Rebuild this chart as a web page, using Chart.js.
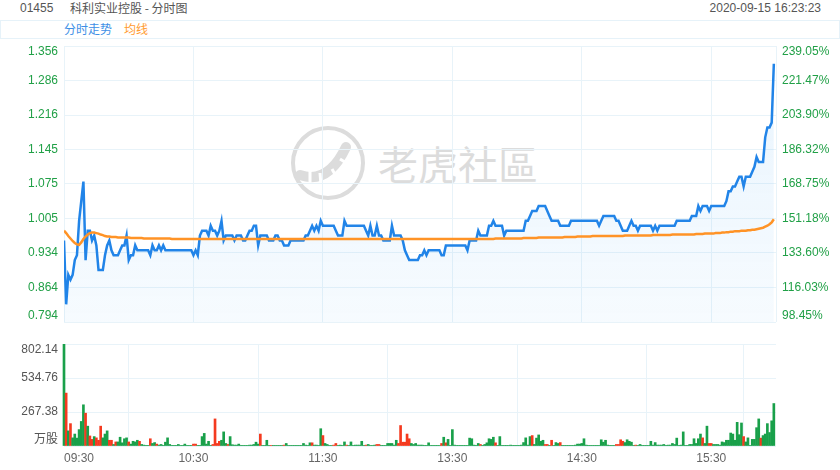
<!DOCTYPE html>
<html>
<head>
<meta charset="utf-8">
<script src="https://cdn.jsdelivr.net/npm/chart.js@4.4.0/dist/chart.umd.min.js"></script>
<style>
body { margin: 0; background: #fff; width: 840px; height: 470px; overflow: hidden; position: relative;
  font-family: 'Liberation Sans', 'Noto Sans CJK SC', sans-serif; }
.txt { position: absolute; font-size: 12px; line-height: 16px; color: #555; white-space: nowrap; }
#legendBox { position: absolute; left: 0; top: 20px; width: 838px; height: 17px; border: 1px solid #e6f2f9; }
#watermark { position: absolute; left: 378px; top: 142px; font-family: 'Noto Sans CJK SC', sans-serif;
  font-size: 40px; line-height: 42px; color: #dcdcdc; }
#logo { position: absolute; left: 288px; top: 123px; }
canvas { position: absolute; left: 0; z-index: 2; }
#priceChart { top: 28px; }
#volChart { top: 326px; }
</style>
</head>
<body>
<div class="txt" style="left:20px;top:0">01455</div>
<div class="txt" style="left:70px;top:0;font-family:'Noto Sans CJK SC',sans-serif">科利实业控股 - 分时图</div>
<div class="txt" style="right:19px;top:0">2020-09-15 16:23:23</div>
<div id="legendBox"></div>
<div class="txt" style="left:64px;top:21px;color:#3d8fe6;font-family:'Noto Sans CJK SC',sans-serif">分时走势</div>
<div class="txt" style="left:124px;top:21px;color:#ff9b30;font-family:'Noto Sans CJK SC',sans-serif">均线</div>

<svg id="logo" width="82" height="82" viewBox="0 0 82 82">
  <circle cx="40" cy="40" r="35" fill="none" stroke="#dcdcdc" stroke-width="4"/>
  <path d="M12 52 Q40 62 58 24" fill="none" stroke="#dcdcdc" stroke-width="10" stroke-linecap="round"/>
  <path d="M22 48 L22 62 M32 50 L33 62 M44 46 L49 55 M52 36 L60 41" stroke="#fff" stroke-width="3"/>
</svg>
<div id="watermark">老虎社區</div>

<canvas id="priceChart" width="840" height="312"></canvas>
<canvas id="volChart" width="840" height="144"></canvas>

<script>
// minute index 0 = 09:30, 150 = 12:00/13:00, 330 = 16:00
const price = [
  0.96,0.83,0.89,0.88,0.89,0.92,0.93,1.00,1.04,1.08,
  0.92,0.98,0.98,0.96,0.97,0.95,0.90,0.90,0.90,0.93,
  0.95,0.96,0.94,0.93,0.93,0.93,0.94,0.95,0.95,0.97,
  0.92,0.93,0.93,0.95,0.94,0.94,0.94,0.94,0.94,0.94,
  0.93,0.95,0.94,0.94,0.95,0.94,0.95,0.94,0.94,0.94,
  0.94,0.94,0.94,0.94,0.94,0.94,0.94,0.94,0.94,0.94,
  0.93,0.94,0.93,0.97,0.98,0.98,0.98,0.97,0.99,0.98,
  0.98,0.97,0.98,1.00,0.96,0.97,0.97,0.97,0.97,0.96,
  0.97,0.97,0.97,0.96,0.96,0.97,0.98,0.98,0.99,0.99,
  0.95,0.97,0.97,0.97,0.97,0.96,0.96,0.96,0.97,0.97,
  0.96,0.96,0.95,0.95,0.95,0.96,0.96,0.96,0.96,0.96,
  0.96,0.96,0.97,0.97,0.98,0.99,0.98,0.99,0.98,1.00,
  0.99,0.99,0.99,0.99,0.99,0.99,0.98,0.97,0.97,0.97,
  1.00,0.99,0.99,0.99,0.99,0.99,0.99,0.99,0.99,0.99,
  0.98,0.97,0.99,0.97,0.97,0.99,0.97,0.97,0.96,0.96,
  0.96,0.96,0.99,0.97,0.97,0.97,0.97,0.96,0.94,0.93,
  0.92,0.92,0.92,0.92,0.92,0.93,0.93,0.94,0.93,0.94,
  0.94,0.94,0.94,0.94,0.94,0.93,0.93,0.95,0.95,0.95,
  0.95,0.95,0.95,0.95,0.95,0.95,0.95,0.94,0.96,0.96,
  0.96,0.96,0.98,0.97,0.97,0.97,0.97,0.99,0.99,1.00,
  0.99,0.99,0.99,0.99,0.97,0.98,0.98,0.98,0.98,0.98,
  0.98,0.98,0.98,0.98,1.00,1.00,1.01,1.02,1.02,1.02,
  1.03,1.03,1.03,1.03,1.02,1.01,1.00,1.00,1.00,1.00,
  0.99,0.99,0.99,0.99,0.99,1.00,1.00,1.00,1.00,1.00,
  1.00,1.00,1.00,1.00,1.00,1.00,1.00,1.00,0.99,1.00,
  1.01,1.01,1.01,1.01,1.01,1.01,1.00,1.00,0.99,0.98,
  0.98,0.98,0.99,1.00,0.99,0.99,0.98,0.99,0.99,0.99,
  0.99,0.99,0.99,0.98,0.99,0.98,0.99,0.99,0.99,0.99,
  0.99,0.99,0.99,0.99,1.00,1.00,1.00,1.00,1.00,1.00,
  1.00,1.01,1.01,1.01,1.03,1.02,1.03,1.03,1.03,1.02,
  1.03,1.03,1.03,1.03,1.03,1.03,1.03,1.04,1.06,1.06,
  1.07,1.07,1.08,1.09,1.09,1.07,1.09,1.09,1.09,1.10,
  1.11,1.13,1.12,1.12,1.12,1.17,1.19,1.19,1.20,1.32
];
const avgPrice = [
  0.980,0.975,0.969,0.964,0.959,0.955,0.952,0.951,0.956,0.963,
  0.968,0.972,0.975,0.976,0.976,0.975,0.974,0.972,0.971,0.969,
  0.968,0.968,0.967,0.967,0.967,0.966,0.966,0.966,0.966,0.966,
  0.966,0.965,0.965,0.965,0.965,0.965,0.965,0.964,0.964,0.964,
  0.964,0.964,0.964,0.964,0.964,0.964,0.964,0.964,0.964,0.964,
  0.963,0.963,0.963,0.963,0.963,0.963,0.963,0.963,0.963,0.963,
  0.963,0.963,0.963,0.963,0.963,0.963,0.963,0.963,0.963,0.963,
  0.963,0.963,0.963,0.963,0.963,0.963,0.963,0.963,0.963,0.963,
  0.963,0.963,0.963,0.963,0.963,0.963,0.963,0.963,0.963,0.963,
  0.963,0.963,0.963,0.963,0.963,0.963,0.963,0.963,0.963,0.963,
  0.963,0.963,0.963,0.963,0.963,0.963,0.963,0.963,0.963,0.963,
  0.963,0.963,0.963,0.963,0.963,0.963,0.963,0.963,0.963,0.963,
  0.963,0.963,0.963,0.963,0.963,0.963,0.963,0.963,0.963,0.963,
  0.963,0.963,0.963,0.963,0.963,0.963,0.963,0.963,0.963,0.963,
  0.963,0.963,0.963,0.963,0.963,0.963,0.963,0.963,0.963,0.963,
  0.963,0.963,0.963,0.963,0.963,0.963,0.963,0.963,0.963,0.963,
  0.963,0.963,0.963,0.963,0.963,0.963,0.963,0.963,0.963,0.963,
  0.963,0.963,0.963,0.963,0.963,0.963,0.963,0.963,0.963,0.963,
  0.963,0.963,0.963,0.963,0.963,0.963,0.963,0.963,0.963,0.963,
  0.963,0.963,0.963,0.963,0.963,0.963,0.963,0.963,0.963,0.963,
  0.964,0.964,0.964,0.964,0.964,0.964,0.964,0.964,0.964,0.964,
  0.964,0.964,0.964,0.965,0.965,0.965,0.965,0.965,0.965,0.965,
  0.966,0.966,0.966,0.966,0.966,0.966,0.966,0.966,0.966,0.966,
  0.966,0.966,0.967,0.967,0.967,0.967,0.967,0.967,0.968,0.968,
  0.968,0.968,0.968,0.968,0.968,0.969,0.969,0.969,0.969,0.969,
  0.969,0.969,0.969,0.969,0.969,0.969,0.969,0.969,0.969,0.969,
  0.970,0.970,0.970,0.970,0.970,0.970,0.970,0.970,0.970,0.970,
  0.970,0.970,0.970,0.971,0.971,0.971,0.971,0.971,0.971,0.971,
  0.971,0.971,0.972,0.972,0.972,0.972,0.972,0.972,0.972,0.972,
  0.972,0.972,0.972,0.973,0.973,0.973,0.973,0.974,0.974,0.974,
  0.974,0.974,0.975,0.975,0.975,0.976,0.976,0.977,0.977,0.978,
  0.978,0.979,0.979,0.979,0.980,0.980,0.980,0.981,0.981,0.982,
  0.982,0.983,0.984,0.985,0.986,0.988,0.990,0.993,0.997,1.003
];
// volume in 万股
const volume = [
  800,416,119,176,64,94,62,129,193,324,
  258,156,79,52,74,64,45,156,64,94,
  119,45,45,12,32,32,69,25,57,64,
  32,15,37,32,45,37,12,7,5,5,
  57,20,27,15,7,12,5,30,64,12,
  5,5,5,12,3,5,15,3,3,3,
  15,15,5,5,74,99,15,37,5,12,
  213,20,37,45,111,20,12,74,10,7,
  7,15,5,3,3,3,7,7,12,30,
  15,94,3,3,45,3,5,5,3,3,
  3,3,7,20,3,5,3,5,5,5,
  5,20,7,3,25,25,7,7,5,136,
  82,20,12,3,3,7,20,3,7,3,
  32,7,3,32,3,7,7,7,37,3,
  7,12,3,3,7,12,12,5,5,3,
  20,20,20,7,45,20,161,30,30,94,
  57,20,12,20,7,7,7,5,5,25,
  3,3,3,5,3,20,69,25,52,3,
  129,7,3,3,5,3,3,3,62,57,
  7,5,20,12,5,12,25,57,52,69,
  25,3,74,3,3,5,3,7,3,5,
  3,3,7,27,64,7,74,82,12,62,
  87,37,45,12,12,5,45,3,27,20,
  27,5,3,3,5,3,3,7,15,15,
  20,57,7,5,5,3,3,5,3,49,
  30,45,7,5,3,3,12,12,49,37,
  27,49,37,30,5,7,3,12,3,3,
  3,3,37,7,27,7,7,7,12,5,
  7,7,20,12,62,3,7,111,3,3,
  12,12,57,20,57,94,64,20,156,20,
  20,12,12,12,7,32,27,45,45,102,
  94,45,186,89,181,74,32,64,5,52,
  52,144,213,62,82,94,176,106,198,334
];
// 1 = up minute (green), 0 = down minute (red)
const volUp = [
  1,0,1,0,1,1,1,1,1,1, 0,1,0,0,1,0,0,0,1,1, 1,0,0,1,0,1,1,1,1,1, 0,1,1,1,1,0,1,1,1,1,
  0,1,1,0,1,1,1,1,1,1, 1,1,1,1,1,1,1,1,1,1, 0,0,1,1,1,1,1,1,1,0, 0,0,0,1,1,1,0,1,1,1,
  1,1,1,1,1,1,1,1,1,1, 1,0,1,1,1,1,0,1,1,1, 1,1,0,1,1,1,1,1,1,1, 1,1,1,1,1,0,1,1,1,1,
  0,1,1,1,1,0,0,1,1,1, 1,0,1,1,1,1,1,1,1,1, 0,1,1,1,1,0,0,1,1,1, 1,1,1,1,1,0,0,0,0,0,
  0,1,1,1,1,1,1,1,1,1, 1,1,1,1,1,0,1,0,1,1, 1,1,1,1,1,1,1,1,1,1, 1,1,1,0,1,1,1,1,1,1,
  0,1,1,1,1,1,1,1,1,1, 1,1,1,1,1,1,1,0,1,1, 1,1,1,0,0,1,0,1,1,1, 0,1,1,1,1,1,1,1,1,1,
  1,1,1,1,1,1,1,1,1,1, 1,1,1,1,1,1,0,0,0,0, 1,1,1,1,1,0,1,1,1,1, 1,1,1,1,1,1,1,1,1,1,
  1,1,1,1,1,1,1,1,1,1, 1,1,1,1,1,1,0,1,1,0, 0,1,1,1,1,1,1,1,1,1, 1,1,1,1,1,0,1,1,1,1,
  1,1,1,0,1,1,1,1,1,1
];

const priceLabels = ['0.794','0.864','0.934','1.005','1.075','1.145','1.216','1.286','1.356'];
const pctLabels = ['98.45%','116.03%','133.60%','151.18%','168.75%','186.32%','203.90%','221.47%','239.05%'];
const volLabels = ['万股','267.38','534.76','802.14'];
const timeTicks = [0, 60, 120, 180, 240, 300, 330];
const timeLabels = ['09:30','10:30','11:30','13:30','14:30','15:30',''];

const priceMin = 0.794, priceMax = 1.356, volMax = 802.14, lastMinute = 330;

Chart.defaults.font.family = "'Liberation Sans', 'Noto Sans CJK SC', sans-serif";
Chart.defaults.font.size = 12;

const gridColor = '#e8f3f9';
const axisGreen = '#21a047';

// first/last labels pushed inside the plot
function edgeLabel(text, idx, n) {
  if (idx === 0) return [text, ''];
  if (idx === n - 1) return ['', text];
  return text;
}
function evenTicks(min, max, n) {
  return Array.from({length: n}, (_, k) => ({value: min + k * (max - min) / (n - 1)}));
}
const xTicks = () => timeTicks.map(v => ({value: v}));
// only hour lines
const xGrid = (ctx) => (ctx.tick && timeTicks.includes(ctx.tick.value)) ? gridColor : 'rgba(0,0,0,0)';

new Chart(document.getElementById('priceChart'), {
  type: 'line',
  data: {
    datasets: [{
      data: price.map((v, i) => ({x: i, y: v})),
      borderColor: '#2184e8',
      borderWidth: 2.5,
      pointRadius: 0,
      fill: 'start',
      order: 2,
      backgroundColor: (ctx) => {
        const a = ctx.chart.chartArea;
        if (!a) return 'rgba(33,150,243,0.06)';
        const g = ctx.chart.ctx.createLinearGradient(0, a.top, 0, a.bottom);
        g.addColorStop(0, 'rgba(33,150,243,0.10)');
        g.addColorStop(1, 'rgba(33,150,243,0.04)');
        return g;
      }
    }, {
      data: avgPrice.map((v, i) => ({x: i, y: v})),
      borderColor: '#ff9326',
      borderWidth: 2.5,
      pointRadius: 0,
      fill: false,
      order: 1
    }]
  },
  options: {
    responsive: false,
    animation: false,
    devicePixelRatio: 1,
    layout: {padding: {top: 12, bottom: 12, left: 0, right: 0}},
    plugins: {legend: {display: false}, tooltip: {enabled: false}},
    scales: {
      x: {
        type: 'linear', min: 0, max: lastMinute,
        afterBuildTicks: s => { s.ticks = xTicks(); },
        afterFit: s => { s.height = 0; },
        ticks: {display: false},
        grid: {color: xGrid, drawTicks: false},
        border: {display: false}
      },
      y: {
        position: 'left', min: priceMin, max: priceMax,
        afterBuildTicks: s => { s.ticks = evenTicks(priceMin, priceMax, priceLabels.length); },
        afterFit: s => { s.width = 64; },
        ticks: {
          color: axisGreen, padding: 6, font: {size: 12, lineHeight: 1},
          callback: (v, i) => edgeLabel(priceLabels[i], i, priceLabels.length)
        },
        grid: {color: gridColor, drawTicks: false},
        border: {display: false}
      },
      y2: {
        position: 'right', min: priceMin, max: priceMax,
        afterBuildTicks: s => { s.ticks = evenTicks(priceMin, priceMax, pctLabels.length); },
        afterFit: s => { s.width = 64; },
        ticks: {
          color: axisGreen, padding: 6, font: {size: 12, lineHeight: 1},
          callback: (v, i) => edgeLabel(pctLabels[i], i, pctLabels.length)
        },
        grid: {display: false, drawTicks: false},
        border: {display: false}
      }
    }
  }
});

new Chart(document.getElementById('volChart'), {
  type: 'bar',
  data: {
    datasets: [{
      data: volume.map((v, i) => ({x: i, y: v})),
      backgroundColor: volUp.map(u => u ? '#19a04a' : '#f43a1f'),
      barThickness: 2,
      borderWidth: 0,
      clip: {left: 3, right: 3, top: 0, bottom: 0}
    }]
  },
  options: {
    responsive: false,
    animation: false,
    devicePixelRatio: 1,
    layout: {padding: {top: 12, bottom: 0, left: 0, right: 64}},
    plugins: {legend: {display: false}, tooltip: {enabled: false}},
    scales: {
      x: {
        type: 'linear', min: 0, max: lastMinute, offset: false,
        afterBuildTicks: s => { s.ticks = xTicks(); },
        afterFit: s => { s.height = 24; },
        ticks: {
          color: '#666', padding: 5, align: 'inner', autoSkip: false, maxRotation: 0,
          callback: (v, i) => timeLabels[i]
        },
        grid: {color: xGrid, drawTicks: false},
        border: {display: false}
      },
      y: {
        position: 'left', min: 0, max: volMax,
        afterBuildTicks: s => { s.ticks = evenTicks(0, volMax, volLabels.length); },
        afterFit: s => { s.width = 64; },
        ticks: {
          color: '#555', padding: 6, font: {size: 12, lineHeight: 1},
          callback: (v, i) => edgeLabel(volLabels[i], i, volLabels.length)
        },
        grid: {color: gridColor, drawTicks: false},
        border: {display: false}
      }
    }
  }
});
</script>
</body>
</html>
